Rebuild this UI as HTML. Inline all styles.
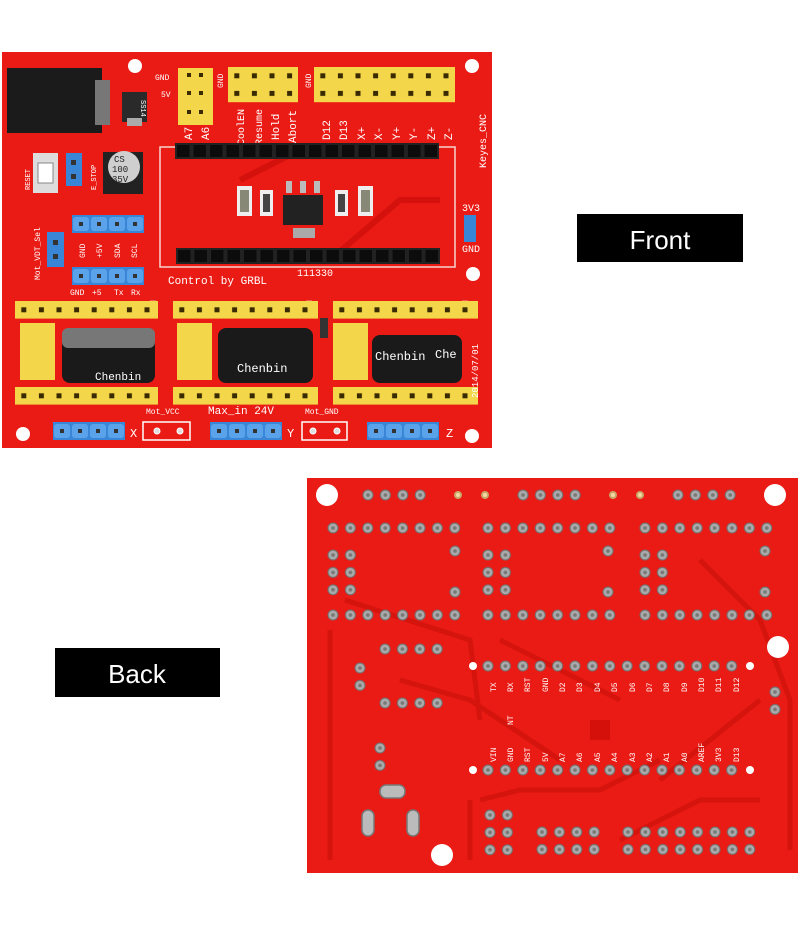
<!DOCTYPE html>
<html><head><meta charset="utf-8"><style>
html,body{margin:0;padding:0;background:#fff;width:800px;height:930px;overflow:hidden}
svg{display:block}
text{font-family:"Liberation Mono",monospace;fill:#fff}
</style></head><body>
<svg width="800" height="930" viewBox="0 0 800 930" xmlns="http://www.w3.org/2000/svg">
<defs>
<pattern id="d" width="17.4" height="17.4" patternUnits="userSpaceOnUse">
<circle cx="8.7" cy="8.7" r="5" fill="#a9a9a9" stroke="#6e6e6e" stroke-width="1"/><circle cx="8.7" cy="8.7" r="1.8" fill="#777"/></pattern>
<pattern id="yp" width="17.6" height="17.6" patternUnits="userSpaceOnUse">
<rect width="17.6" height="17.6" fill="#f4d64a"/><rect x="6.3" y="6.3" width="5" height="5" fill="#3a2a00"/></pattern>
<pattern id="bp" width="18" height="18" patternUnits="userSpaceOnUse">
<rect width="18" height="18" fill="#3a86d6"/><rect x="1" y="2" width="16" height="14" rx="3" fill="#5aa2ea"/><rect x="7" y="7" width="4" height="4" fill="#333"/></pattern>
<pattern id="kp" width="16.5" height="16" patternUnits="userSpaceOnUse">
<rect width="16.5" height="16" fill="#222"/><rect x="2" y="2" width="12.5" height="12" fill="#0c0c0c"/></pattern>
</defs>

<!-- FRONT BOARD -->
<rect x="2" y="52" width="490" height="396" fill="#ea1a14"/>
<path d="M160 147 H455 V267 H160 Z" fill="none" stroke="#f7d3cf" stroke-width="1.5"/>
<path d="M240 180 L300 150 M330 260 L400 200 L440 200" stroke="#d4110c" stroke-width="6" fill="none"/>
<g fill="#fff"><circle cx="135" cy="66" r="7"/><circle cx="472" cy="66" r="7"/><circle cx="473" cy="274" r="7"/><circle cx="23" cy="434" r="7"/><circle cx="472" cy="436" r="7"/></g>
<rect x="7" y="68" width="95" height="65" fill="#1b1b1b"/><rect x="95" y="80" width="15" height="45" fill="#777"/>
<rect x="122" y="92" width="25" height="30" fill="#2a2a2a"/><rect x="127" y="118" width="15" height="8" fill="#aaa"/>
<text x="129" y="98" font-size="7" transform="rotate(90 134 105)">SS14</text>
<rect x="178" y="68" width="35" height="57" fill="#f4d64a"/>
<g fill="#3a2a00"><rect x="187" y="73" width="4" height="4"/><rect x="199" y="73" width="4" height="4"/><rect x="187" y="91" width="4" height="4"/><rect x="199" y="91" width="4" height="4"/><rect x="187" y="110" width="4" height="4"/><rect x="199" y="110" width="4" height="4"/></g>
<rect width="70" height="35.2" fill="url(#yp)" transform="translate(228 67)"/>
<rect width="141" height="35.2" fill="url(#yp)" transform="translate(314 67)"/>
<text x="155" y="80" font-size="8">GND</text><text x="161" y="97" font-size="8">5V</text>
<text font-size="8" transform="translate(223 88) rotate(-90)">GND</text>
<text font-size="8" transform="translate(311 88) rotate(-90)">GND</text>
<g font-size="11"><text transform="translate(192 140) rotate(-90)">A7</text><text transform="translate(209 140) rotate(-90)">A6</text>
<text transform="translate(244 145) rotate(-90)" font-size="10">CoolEN</text><text transform="translate(262 145) rotate(-90)" font-size="10">Resume</text>
<text transform="translate(279 140) rotate(-90)">Hold</text><text transform="translate(296 143) rotate(-90)">Abort</text>
<text transform="translate(330 140) rotate(-90)">D12</text><text transform="translate(347 140) rotate(-90)">D13</text>
<text transform="translate(365 140) rotate(-90)">X+</text><text transform="translate(382 140) rotate(-90)">X-</text>
<text transform="translate(400 140) rotate(-90)">Y+</text><text transform="translate(417 140) rotate(-90)">Y-</text>
<text transform="translate(435 140) rotate(-90)">Z+</text><text transform="translate(452 140) rotate(-90)">Z-</text>
<text transform="translate(486 168) rotate(-90)" font-size="10">Keyes_CNC</text></g>
<rect width="264" height="16" fill="url(#kp)" transform="translate(175 143)"/>
<rect width="264" height="16" fill="url(#kp)" transform="translate(176 248)"/>
<rect x="237" y="186" width="15" height="30" fill="#eee"/><rect x="240" y="190" width="9" height="22" fill="#887"/>
<rect x="260" y="190" width="13" height="26" fill="#eee"/><rect x="263" y="194" width="7" height="18" fill="#444"/>
<rect x="283" y="195" width="40" height="30" fill="#222"/><rect x="293" y="228" width="22" height="10" fill="#aaa"/>
<rect x="286" y="181" width="6" height="12" fill="#bbb"/><rect x="300" y="181" width="6" height="12" fill="#bbb"/><rect x="314" y="181" width="6" height="12" fill="#bbb"/>
<rect x="335" y="190" width="13" height="26" fill="#eee"/><rect x="338" y="194" width="7" height="18" fill="#444"/>
<rect x="358" y="186" width="15" height="30" fill="#eee"/><rect x="361" y="190" width="9" height="22" fill="#887"/>
<rect x="33" y="153" width="25" height="40" fill="#ddd"/><rect x="38" y="163" width="15" height="20" fill="#fff" stroke="#888"/>
<text font-size="7" transform="translate(30 190) rotate(-90)">RESET</text>
<rect x="66" y="153" width="16" height="33" fill="#3a86d6"/><rect x="71" y="160" width="5" height="5" fill="#333"/><rect x="71" y="174" width="5" height="5" fill="#333"/>
<text font-size="7" transform="translate(96 190) rotate(-90)">E_STOP</text>
<rect x="103" y="152" width="40" height="42" fill="#222"/><circle cx="124" cy="167" r="16" fill="#cfcfcf"/>
<text x="114" y="162" font-size="9" style="fill:#222">CS</text><text x="112" y="172" font-size="9" style="fill:#222">100</text><text x="112" y="182" font-size="9" style="fill:#222">35V</text>
<rect width="72" height="18" fill="url(#bp)" transform="translate(72 215)"/>
<rect width="72" height="18" fill="url(#bp)" transform="translate(72 267)"/>
<rect x="47" y="232" width="17" height="35" fill="#3a86d6"/><rect x="53" y="240" width="5" height="5" fill="#333"/><rect x="53" y="254" width="5" height="5" fill="#333"/>
<text font-size="8" transform="translate(40 280) rotate(-90)">Mot_VDT_Sel</text>
<g font-size="8"><text transform="translate(85 258) rotate(-90)">GND</text><text transform="translate(102 258) rotate(-90)">+5V</text><text transform="translate(120 258) rotate(-90)">SDA</text><text transform="translate(137 258) rotate(-90)">SCL</text></g>
<text x="70" y="295" font-size="8">GND</text><text x="92" y="295" font-size="8">+5</text><text x="114" y="295" font-size="8">Tx</text><text x="131" y="295" font-size="8">Rx</text>
<rect x="464" y="215" width="12" height="27" fill="#3a86d6"/>
<text x="462" y="211" font-size="10">3V3</text><text x="462" y="252" font-size="10">GND</text>
<text x="168" y="284" font-size="11">Control by GRBL</text><text x="297" y="276" font-size="10">111330</text>
<g font-size="9"><text transform="translate(150 300) rotate(90)">EN</text><text transform="translate(306 300) rotate(90)">EN</text><text transform="translate(462 300) rotate(90)">EN</text></g>
<g>
<rect width="143" height="17.6" fill="url(#yp)" transform="translate(15 301)"/><rect width="143" height="17.6" fill="url(#yp)" transform="translate(15 387)"/>
<rect width="145" height="17.6" fill="url(#yp)" transform="translate(173 301)"/><rect width="145" height="17.6" fill="url(#yp)" transform="translate(173 387)"/>
<rect width="145" height="17.6" fill="url(#yp)" transform="translate(333 301)"/><rect width="145" height="17.6" fill="url(#yp)" transform="translate(333 387)"/>
<rect x="20" y="323" width="35" height="57" fill="#f4d64a"/><rect x="177" y="323" width="35" height="57" fill="#f4d64a"/><rect x="333" y="323" width="35" height="57" fill="#f4d64a"/>
<rect x="62" y="328" width="93" height="55" rx="8" fill="#1a1a1a"/><rect x="62" y="328" width="93" height="20" rx="6" fill="#777"/>
<rect x="218" y="328" width="95" height="55" rx="8" fill="#1a1a1a"/>
<rect x="372" y="335" width="90" height="48" rx="8" fill="#1a1a1a"/>
<text x="95" y="380" font-size="11">Chenbin</text><text x="237" y="372" font-size="12">Chenbin</text><text x="375" y="360" font-size="12">Chenbin</text><text x="435" y="358" font-size="12">Che</text>
<rect x="320" y="318" width="8" height="20" fill="#333"/>
<text font-size="9" transform="translate(478 398) rotate(-90)">2014/07/01</text>
</g>
<rect width="72" height="18" fill="url(#bp)" transform="translate(53 422)"/><rect width="72" height="18" fill="url(#bp)" transform="translate(210 422)"/><rect width="72" height="18" fill="url(#bp)" transform="translate(367 422)"/>
<rect x="143" y="422" width="47" height="18" fill="none" stroke="#fff" stroke-width="1.5"/><rect x="302" y="422" width="45" height="18" fill="none" stroke="#fff" stroke-width="1.5"/>
<g fill="#ddd" stroke="#fff"><circle cx="157" cy="431" r="3"/><circle cx="180" cy="431" r="3"/><circle cx="313" cy="431" r="3"/><circle cx="337" cy="431" r="3"/></g>
<text x="130" y="437" font-size="12">X</text><text x="287" y="437" font-size="12">Y</text><text x="446" y="437" font-size="12">Z</text>
<text x="146" y="414" font-size="8">Mot_VCC</text><text x="208" y="414" font-size="11">Max_in 24V</text><text x="305" y="414" font-size="8">Mot_GND</text>

<rect x="577" y="214" width="166" height="48" fill="#000"/>
<text x="660" y="249" font-size="26" text-anchor="middle" style="font-family:'Liberation Sans',sans-serif">Front</text>
<rect x="55" y="648" width="165" height="49" fill="#000"/>
<text x="137" y="683" font-size="26" text-anchor="middle" style="font-family:'Liberation Sans',sans-serif">Back</text>

<!-- BACK BOARD -->
<rect x="307" y="478" width="491" height="395" fill="#ea1a14"/>
<g stroke="#d6140e" stroke-width="5" fill="none">
<path d="M330 630 L330 860 M345 600 L470 640 L480 720 M400 680 L470 700 L560 760 M500 640 L620 700 M700 560 L760 620 L790 700 L790 850 M660 780 L760 700"/>
<path d="M480 800 L520 790 L600 790 L660 760 M470 860 L470 800 M620 840 L700 800 L760 800"/>
</g>
<g fill="#fff"><circle cx="327" cy="495" r="11"/><circle cx="775" cy="495" r="11"/><circle cx="778" cy="647" r="11"/><circle cx="442" cy="855" r="11"/></g>
<g fill="#f3d9a8" stroke="#c9a86a" stroke-width="2"><circle cx="458" cy="495" r="3"/><circle cx="485" cy="495" r="3"/><circle cx="613" cy="495" r="3"/><circle cx="640" cy="495" r="3"/></g>
<g fill="url(#d)">
<rect width="70" height="17.4" transform="translate(359.3 486.3)"/>
<rect width="70" height="17.4" transform="translate(514.3 486.3)"/>
<rect width="70" height="17.4" transform="translate(669.3 486.3)"/>
<rect width="139.2" height="17.4" transform="translate(324.3 519.3)"/>
<rect width="139.2" height="17.4" transform="translate(479.3 519.3)"/>
<rect width="139.2" height="17.4" transform="translate(636.3 519.3)"/>
<rect width="139.2" height="17.4" transform="translate(324.3 606.3)"/>
<rect width="139.2" height="17.4" transform="translate(479.3 606.3)"/>
<rect width="139.2" height="17.4" transform="translate(636.3 606.3)"/>
<rect width="34.8" height="52.2" transform="translate(324.3 546.3)"/>
<rect width="34.8" height="52.2" transform="translate(479.3 546.3)"/>
<rect width="34.8" height="52.2" transform="translate(636.3 546.3)"/>
<rect width="17.4" height="17.4" transform="translate(446.3 542.3)"/><rect width="17.4" height="17.4" transform="translate(446.3 583.3)"/>
<rect width="17.4" height="17.4" transform="translate(599.3 542.3)"/><rect width="17.4" height="17.4" transform="translate(599.3 583.3)"/>
<rect width="17.4" height="17.4" transform="translate(756.3 542.3)"/><rect width="17.4" height="17.4" transform="translate(756.3 583.3)"/>
<rect width="69.6" height="17.4" transform="translate(376.3 640.3)"/>
<rect width="69.6" height="17.4" transform="translate(376.3 694.3)"/>
<rect width="17.4" height="34.8" transform="translate(351.3 659.3)"/>
<rect width="261" height="17.4" transform="translate(479.3 657.3)"/>
<rect width="261" height="17.4" transform="translate(479.3 761.3)"/>
<rect width="17.4" height="34.8" transform="translate(371.3 739.3)"/>
<rect width="17.4" height="34.8" transform="translate(766.3 683.3)"/>
<rect width="34.8" height="52.2" transform="translate(481.3 806.3)"/>
<rect width="69.6" height="34.8" transform="translate(533.3 823.3)"/>
<rect width="139.2" height="34.8" transform="translate(619.3 823.3)"/>
</g>
<g fill="#fff"><circle cx="473" cy="666" r="4"/><circle cx="750" cy="666" r="4"/><circle cx="473" cy="770" r="4"/><circle cx="750" cy="770" r="4"/></g>
<g fill="#bbb" stroke="#777" stroke-width="1.5">
<rect x="380" y="785" width="25" height="13" rx="6"/><rect x="362" y="810" width="12" height="26" rx="6"/><rect x="407" y="810" width="12" height="26" rx="6"/></g>
<rect x="590" y="720" width="20" height="20" fill="#d5100b"/>
<g font-size="8" style="fill:#fbe3e1">
<text transform="translate(496 692) rotate(-90)">TX</text><text transform="translate(513 692) rotate(-90)">RX</text><text transform="translate(530 692) rotate(-90)">RST</text><text transform="translate(548 692) rotate(-90)">GND</text>
<text transform="translate(565 692) rotate(-90)">D2</text><text transform="translate(582 692) rotate(-90)">D3</text><text transform="translate(600 692) rotate(-90)">D4</text><text transform="translate(617 692) rotate(-90)">D5</text>
<text transform="translate(635 692) rotate(-90)">D6</text><text transform="translate(652 692) rotate(-90)">D7</text><text transform="translate(669 692) rotate(-90)">D8</text><text transform="translate(687 692) rotate(-90)">D9</text>
<text transform="translate(704 692) rotate(-90)">D10</text><text transform="translate(721 692) rotate(-90)">D11</text><text transform="translate(739 692) rotate(-90)">D12</text>
<text transform="translate(496 762) rotate(-90)">VIN</text><text transform="translate(513 762) rotate(-90)">GND</text><text transform="translate(530 762) rotate(-90)">RST</text><text transform="translate(548 762) rotate(-90)">5V</text>
<text transform="translate(565 762) rotate(-90)">A7</text><text transform="translate(582 762) rotate(-90)">A6</text><text transform="translate(600 762) rotate(-90)">A5</text><text transform="translate(617 762) rotate(-90)">A4</text>
<text transform="translate(635 762) rotate(-90)">A3</text><text transform="translate(652 762) rotate(-90)">A2</text><text transform="translate(669 762) rotate(-90)">A1</text><text transform="translate(687 762) rotate(-90)">A0</text>
<text transform="translate(704 762) rotate(-90)">AREF</text><text transform="translate(721 762) rotate(-90)">3V3</text><text transform="translate(739 762) rotate(-90)">D13</text>
<text transform="translate(513 725) rotate(-90)">NT</text>
</g>
</svg>
</body></html>
